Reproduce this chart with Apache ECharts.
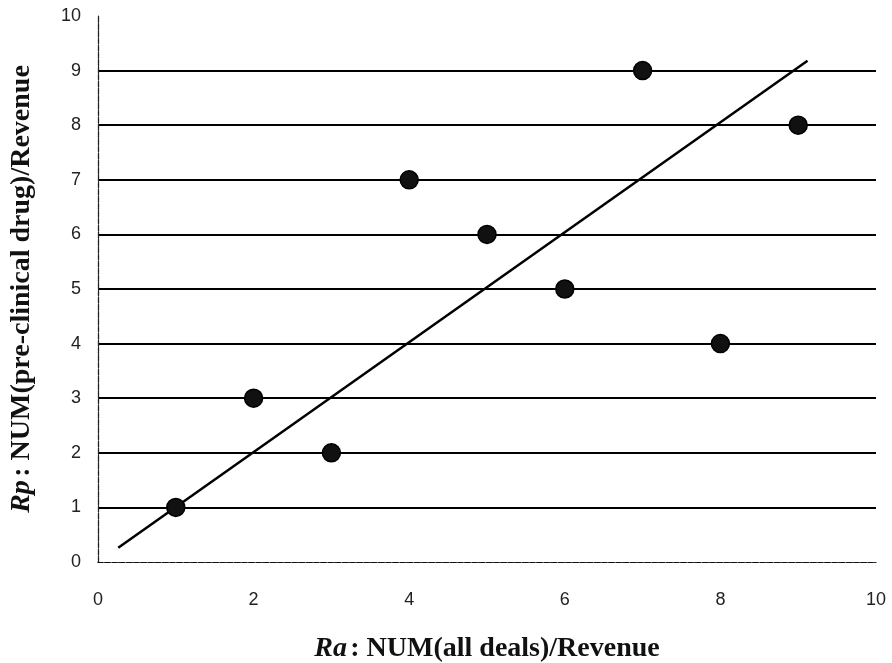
<!DOCTYPE html>
<html><head><meta charset="utf-8">
<script src="https://cdn.jsdelivr.net/npm/echarts@6/dist/echarts.min.js"></script>
<style>html,body{margin:0;padding:0;background:#fff}#c{width:892px;height:663px}</style>
</head><body><div id="c"></div>
<script>
const xValues = [1, 2, 3, 4, 5, 6, 7, 8, 9];
const yValues = [1, 3, 2, 7, 6, 5, 9, 4, 8];
const trendX = [0.26, 9.12];
const trendY = [0.26, 9.18];
const xTicks = [0, 2, 4, 6, 8, 10];
const yTicks = [0, 1, 2, 3, 4, 5, 6, 7, 8, 9, 10];

const chart = echarts.init(document.getElementById('c'), null, {renderer: 'canvas'});
const points = xValues.map((x, i) => [x, yValues[i]]);
const trend = trendX.map((x, i) => [x, trendY[i]]);
const titleRich = {
  i: {fontFamily: 'Liberation Serif', fontStyle: 'italic', fontWeight: 'bold', fontSize: 28, color: '#111'},
  b: {fontFamily: 'Liberation Serif', fontWeight: 'bold', fontSize: 28, color: '#111'}
};
chart.setOption({
  animation: false,
  backgroundColor: '#fff',
  grid: {left: 98, right: 16, top: 16, bottom: 101, containLabel: false, outerBoundsMode: 'none'},
  xAxis: [{
    type: 'value', min: 0, max: 10, interval: 2,
    axisLine: {show: true, lineStyle: {color: '#333', type: 'dotted', width: 1}},
    axisTick: {show: false},
    splitLine: {show: false},
    axisLabel: {margin: 29, color: '#222', fontFamily: 'Liberation Sans', fontSize: 18,
      formatter: v => xTicks.includes(v) ? String(v) : ''},
    name: '{i|Ra} {b|: NUM(all deals)/Revenue}',
    nameLocation: 'middle', nameGap: 73,
    nameTextStyle: {rich: titleRich}
  }, {
    type: 'value', min: 0, max: 10, position: 'top',
    axisLine: {show: true, lineStyle: {color: '#111', type: 'dashed', width: 1.2}},
    axisTick: {show: false}, axisLabel: {show: false}, splitLine: {show: false}
  }],
  yAxis: [{
    type: 'value', min: 0, max: 10, interval: 1,
    axisLine: {show: true, lineStyle: {color: '#222', type: 'dashed', width: 1.2}},
    axisTick: {show: false},
    splitLine: {show: true, showMinLine: false, showMaxLine: false, lineStyle: {color: '#000', width: 2}},
    axisLabel: {margin: 17, color: '#222', fontFamily: 'Liberation Sans', fontSize: 18,
      formatter: v => yTicks.includes(v) ? String(v) : ''},
    name: '{i|Rp} {b|: NUM(pre-clinical drug)/Revenue}',
    nameLocation: 'middle', nameGap: 62, nameRotate: 90,
    nameTextStyle: {rich: titleRich}
  }, {
    type: 'value', min: 0, max: 10, position: 'right',
    axisLine: {show: true, lineStyle: {color: '#222', type: 'dotted', width: 1.2}},
    axisTick: {show: false}, axisLabel: {show: false}, splitLine: {show: false}
  }],
  series: [{
    type: 'line', data: trend, symbol: 'none',
    lineStyle: {color: '#000', width: 2.5}, z: 3
  }, {
    type: 'scatter', data: points, symbol: 'circle', symbolSize: 18,
    itemStyle: {color: '#111', borderColor: '#000', borderWidth: 1.5, opacity: 1}, z: 4
  }]
});
</script></body></html>
